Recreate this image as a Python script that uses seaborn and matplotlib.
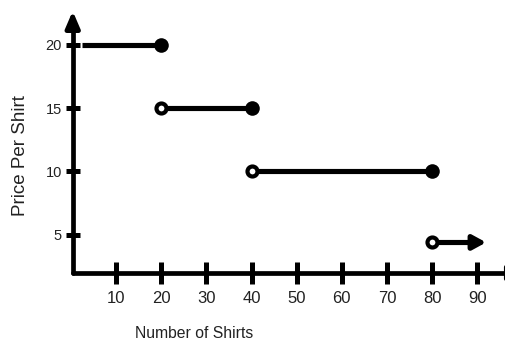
import matplotlib
matplotlib.use("Agg")
import matplotlib.pyplot as plt
import seaborn as sns
import pandas as pd

# ---- data ----
seg_start = [2.5, 20, 40, 80]
seg_end = [20, 40, 80, 92]
seg_price = [20, 15, 10, 4.4]
closed_right = [True, True, True, False]
open_left = [False, True, True, True]
arrow_right = [False, False, False, True]
x_ticks = [10, 20, 30, 40, 50, 60, 70, 80, 90]
y_ticks = [5, 10, 15, 20]
x_title = "Number of Shirts"
y_title = "Price Per Shirt"

sns.set_style("white")
plt.rcParams["font.family"] = ["Liberation Sans", "DejaVu Sans"]

W, H = 506, 341
fig = plt.figure(figsize=(W / 100, H / 100), dpi=100)
ax = fig.add_axes([0, 0, 1, 1])
ax.set_xlim(-15.73, 96.39)
ax.set_ylim(-3.375, 23.52)

ax_x0 = 0.38   # where y axis sits
ax_y0 = 1.99   # where x axis sits
LW = 3.7
AXLW = 3.4

# segments
rows = []
head_len = 2.4
for i, (a, b, p, arr) in enumerate(zip(seg_start, seg_end, seg_price, arrow_right)):
    end = b - head_len if arr else b
    rows.append({"seg": i, "x": a, "price": p})
    rows.append({"seg": i, "x": end, "price": p})
df = pd.DataFrame(rows)
sns.lineplot(data=df, x="x", y="price", units="seg", estimator=None,
             color="black", lw=LW, ax=ax, legend=False, solid_capstyle="butt")

for a, b, p, arr in zip(seg_start, seg_end, seg_price, arrow_right):
    if arr:
        ax.annotate("", xy=(b, p), xytext=(b - head_len - 0.5, p),
                    arrowprops=dict(arrowstyle="-|>,head_length=0.55,head_width=0.3",
                                    color="black", lw=LW, mutation_scale=14,
                                    shrinkA=0, shrinkB=0))

closed = pd.DataFrame({"x": [b for b, c in zip(seg_end, closed_right) if c],
                       "price": [p for p, c in zip(seg_price, closed_right) if c]})
opened = pd.DataFrame({"x": [a for a, o in zip(seg_start, open_left) if o],
                       "price": [p for p, o in zip(seg_price, open_left) if o]})
sns.scatterplot(data=closed, x="x", y="price", s=10.5 ** 2, color="black",
                edgecolor="black", linewidth=0, ax=ax, zorder=5, legend=False)
sns.scatterplot(data=opened, x="x", y="price", s=7.2 ** 2, facecolor="white",
                edgecolor="black", linewidth=3.0, ax=ax, zorder=5, legend=False)

# axes styling
for s in ["top", "right"]:
    ax.spines[s].set_visible(False)
ax.spines["left"].set_position(("data", ax_x0))
ax.spines["bottom"].set_position(("data", ax_y0))
ax.spines["left"].set_bounds(ax_y0, 21.5)
ax.spines["bottom"].set_bounds(ax_x0, 96.39)
for s in ["left", "bottom"]:
    ax.spines[s].set_linewidth(AXLW)
    ax.spines[s].set_color("black")
    ax.spines[s].set_capstyle("round")

ax.annotate("", xy=(ax_x0, 22.65), xytext=(ax_x0, 21.2),
            arrowprops=dict(arrowstyle="-|>,head_length=0.7,head_width=0.3",
                            color="black", lw=AXLW, mutation_scale=14,
                            shrinkA=0, shrinkB=0))
ax.annotate("", xy=(100.8, ax_y0), xytext=(97.5, ax_y0),
            arrowprops=dict(arrowstyle="-|>,head_length=0.7,head_width=0.3",
                            color="black", lw=AXLW, mutation_scale=14,
                            shrinkA=0, shrinkB=0), annotation_clip=False)

ax.set_xticks(x_ticks)
ax.set_yticks(y_ticks)
ax.set_xticklabels([str(t) for t in x_ticks])
ax.set_yticklabels([str(t) for t in y_ticks])
ax.tick_params(axis="x", direction="inout", length=15.8, width=3.6, pad=5.0,
               labelsize=12, labelcolor="#222222", color="black", bottom=True)
ax.tick_params(axis="y", direction="inout", length=10.6, width=3.6, pad=2.5,
               labelsize=10.5, labelcolor="#222222", color="black", left=True)
ax.set_xlabel("")
ax.set_ylabel("")
ax.grid(False)

fig.text(194 / W, 1 - 338 / H, x_title, ha="center", va="baseline",
         fontsize=11.3, color="#222222")
fig.text(20.5 / W, 1 - 156 / H, y_title, ha="center", va="center",
         rotation=90, fontsize=13.5, color="#222222")

fig.savefig("out.png", dpi=100, facecolor="white")
